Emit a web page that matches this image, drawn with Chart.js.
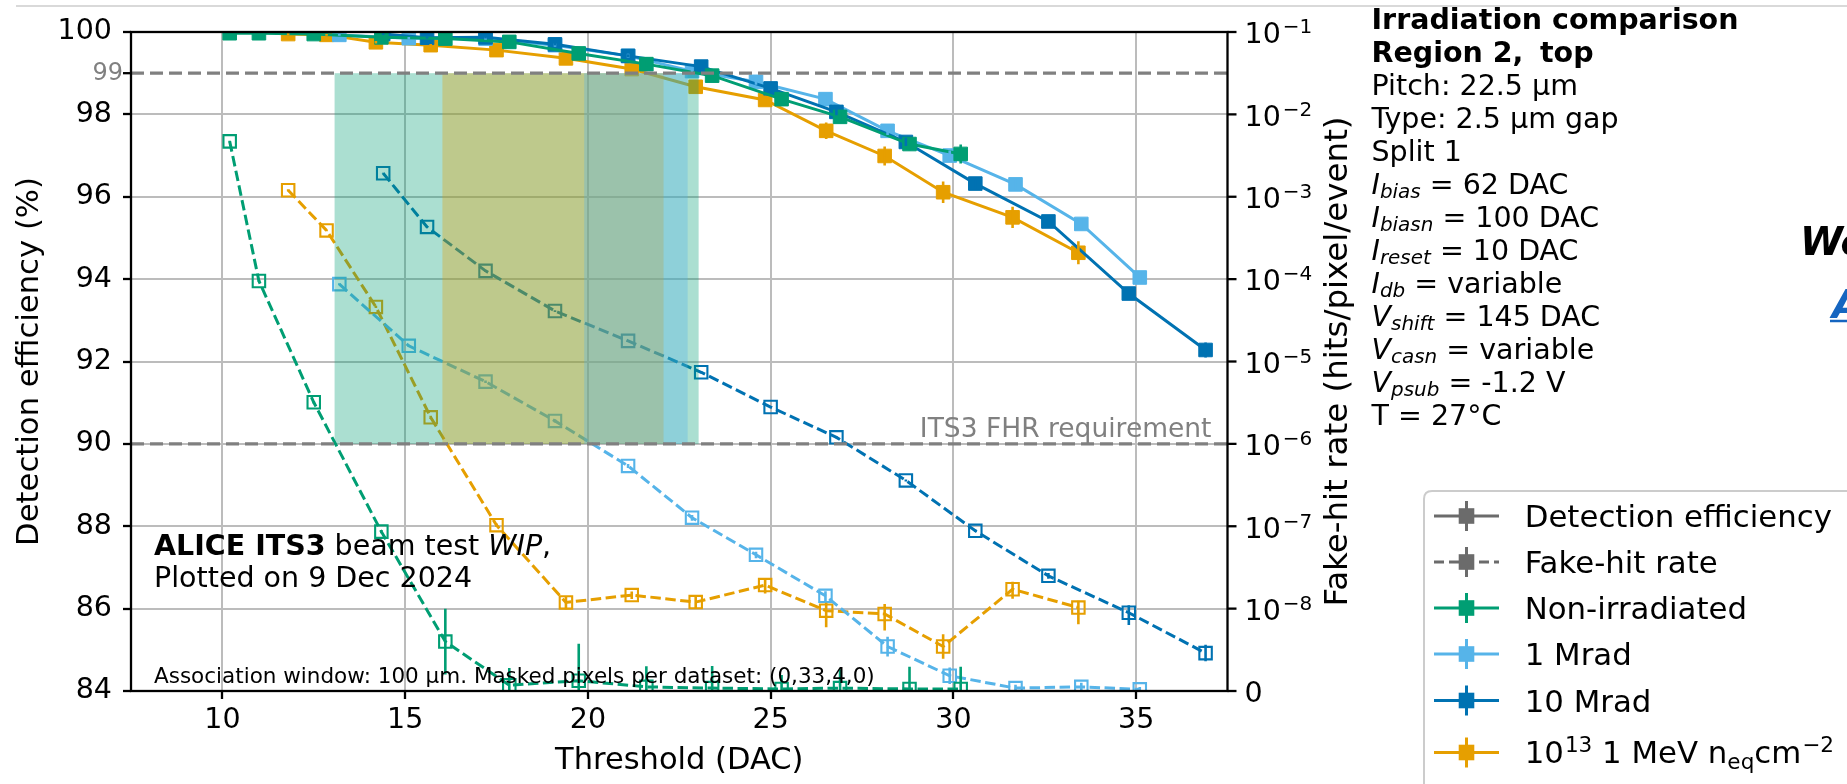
<!DOCTYPE html>
<html><head><meta charset="utf-8">
<script src="https://cdn.jsdelivr.net/npm/chart.js@4.4.1/dist/chart.umd.min.js"></script>
<style>html,body{margin:0;padding:0;background:#fff;overflow:hidden}canvas{display:block}</style>
</head><body>
<canvas id="c" width="1847" height="784"></canvas>
<script>
// ---------------- data ----------------
const thrNonIrr = [10.2, 11.0, 12.5, 14.35, 16.1, 17.85, 19.75, 21.6, 23.4, 25.3, 26.9, 28.8, 30.2];
const effNonIrr = [99.97, 99.97, 99.95, 99.87, 99.84, 99.76, 99.48, 99.22, 98.94, 98.37, 97.94, 97.28, 97.04];
const effErrNonIrr = [0.02, 0.02, 0.02, 0.03, 0.03, 0.04, 0.05, 0.06, 0.07, 0.09, 0.1, 0.15, 0.23];
const fhrNonIrr = [4.7e-3, 9.5e-5, 3.2e-6, 8.6e-8, 6.0e-9, 7e-10, 1.25e-9, 5e-10, 3.5e-10, 2.5e-10, 3.5e-10, 2.5e-10, 2.5e-10];
const fhrErrNonIrr = [1e-4, 2e-6, 1e-7, 4e-9, 4e-9, 2.1e-9, 4.5e-9, 2.5e-9, 2.7e-9, 1.7e-9, 2.3e-9, 2.7e-9, 2.7e-9];

const thr1Mrad = [13.2, 15.1, 17.2, 19.1, 21.1, 22.85, 24.6, 26.5, 28.2, 29.9, 31.7, 33.5, 35.1];
const eff1Mrad = [99.93, 99.85, 99.84, 99.68, 99.42, 99.05, 98.79, 98.37, 97.6, 97.0, 96.3, 95.34, 94.04];
const effErr1Mrad = [0.02, 0.03, 0.03, 0.04, 0.05, 0.06, 0.07, 0.08, 0.1, 0.12, 0.12, 0.14, 0.15];
const fhr1Mrad = [8.7e-5, 1.55e-5, 5.7e-6, 1.9e-6, 5.4e-7, 1.27e-7, 4.5e-8, 1.43e-8, 5.4e-9, 1.85e-9, 3.5e-10, 5e-10, 2e-10];
const fhrErr1Mrad = [2e-6, 5e-7, 2e-7, 8e-8, 3e-8, 1e-8, 4e-9, 2e-9, 1.2e-9, 1e-9, 4e-10, 5e-10, 3e-10];

const thr10Mrad = [14.4, 15.6, 17.2, 19.1, 21.1, 23.1, 25.0, 26.8, 28.7, 30.6, 32.6, 34.8, 36.9];
const eff10Mrad = [99.95, 99.86, 99.87, 99.7, 99.42, 99.16, 98.63, 98.06, 97.33, 96.32, 95.4, 93.65, 92.28];
const effErr10Mrad = [0.02, 0.02, 0.03, 0.03, 0.04, 0.05, 0.06, 0.08, 0.1, 0.12, 0.13, 0.15, 0.18];
const fhr10Mrad = [1.93e-3, 4.3e-4, 1.26e-4, 4.1e-5, 1.78e-5, 7.4e-6, 2.8e-6, 1.2e-6, 3.6e-7, 8.8e-8, 2.5e-8, 9.5e-9, 4.6e-9];
const fhrErr10Mrad = [3e-5, 8e-6, 3e-6, 1e-6, 4e-7, 2e-7, 7e-8, 3e-8, 1e-8, 3e-9, 2e-9, 1.5e-9, 1e-9];

const thrNiel = [11.8, 12.85, 14.2, 15.7, 17.5, 19.4, 21.2, 22.95, 24.85, 26.52, 28.12, 29.72, 31.62, 33.42];
const effNiel = [99.95, 99.93, 99.75, 99.68, 99.56, 99.36, 99.1, 98.67, 98.35, 97.6, 96.99, 96.11, 95.5, 94.64];
const effErrNiel = [0.02, 0.02, 0.03, 0.03, 0.04, 0.05, 0.06, 0.08, 0.1, 0.2, 0.23, 0.26, 0.26, 0.28];
const fhrNiel = [1.2e-3, 3.9e-4, 4.6e-5, 2.1e-6, 1.03e-7, 1.19e-8, 1.46e-8, 1.2e-8, 1.93e-8, 9.75e-9, 9.35e-9, 5.4e-9, 1.72e-8, 1.03e-8];
const fhrErrNiel = [3e-5, 1e-5, 1.5e-6, 1e-7, 5e-9, 2e-9, 1.5e-9, 2e-9, 4e-9, 2e-9, 2e-9, 1.5e-9, 4e-9, 2.2e-9];

// operating windows (threshold ranges) per series: Non-irradiated, 10^13, 1 Mrad
const spanStart = [13.07, 16.02, 19.9];
const spanEnd = [23.03, 22.07, 22.73];

const xTicks = [10, 15, 20, 25, 30, 35];
const effTicks = [84, 86, 88, 90, 92, 94, 96, 98, 100];
const fhrTicks = [1e-1, 1e-2, 1e-3, 1e-4, 1e-5, 1e-6, 1e-7, 1e-8, 0];
const fhrTickExp = ['\u22121', '\u22122', '\u22123', '\u22124', '\u22125', '\u22126', '\u22127', '\u22128'];
const effLimit = 99;
const fhrLimit = 1e-6;

const seriesNames = ['Non-irradiated', '1 Mrad', '10 Mrad', '10^13 1 MeV neq cm^-2'];
const seriesColors = ['#009E73', '#56B4E9', '#0072B2', '#E69F00'];
const spanColors = ['rgba(0,158,115,0.33)', 'rgba(230,159,0,0.33)', 'rgba(86,180,233,0.33)'];

// ---------------- build ----------------
const series = [
  {thr: thrNonIrr, eff: effNonIrr, effErr: effErrNonIrr, fhr: fhrNonIrr, fhrErr: fhrErrNonIrr, color: seriesColors[0]},
  {thr: thr1Mrad, eff: eff1Mrad, effErr: effErr1Mrad, fhr: fhr1Mrad, fhrErr: fhrErr1Mrad, color: seriesColors[1]},
  {thr: thr10Mrad, eff: eff10Mrad, effErr: effErr10Mrad, fhr: fhr10Mrad, fhrErr: fhrErr10Mrad, color: seriesColors[2]},
  {thr: thrNiel, eff: effNiel, effErr: effErrNiel, fhr: fhrNiel, fhrErr: fhrErrNiel, color: seriesColors[3]},
];

const FONT = '"DejaVu Sans", sans-serif';
Chart.defaults.font.family = FONT;

class SymLogScale extends Chart.Scale {
  static id = 'symlog';
  static defaults = {ticks: {callback: (v) => String(v)}};
  parse(raw) { return (raw === null || raw === undefined) ? NaN : +raw; }
  determineDataLimits() { this.min = this.options.min; this.max = this.options.max; }
  buildTicks() { return fhrTicks.map(v => ({value: v})); }
  _tr(v) { const L = this.options.linthresh || 1e-8; return v <= L ? v / L : 1 + Math.log10(v / L); }
  getPixelForValue(v) {
    const a = this._tr(this.min), b = this._tr(this.max);
    return this.getPixelForDecimal((this._tr(v) - a) / (b - a));
  }
  getValueForPixel(p) {
    const L = this.options.linthresh || 1e-8;
    const a = this._tr(this.min), b = this._tr(this.max);
    const t = a + this.getDecimalForPixel(p) * (b - a);
    return t <= 1 ? t * L : L * Math.pow(10, t - 1);
  }
  getLabelForValue(v) { return String(v); }
}
Chart.register(SymLogScale);

const datasets = [];
const fhrOrder = [0, 1, 2, 3];
const effOrder = [0, 2, 1, 3];
fhrOrder.forEach(k => {
  const s = series[k];
  datasets.push({
    label: seriesNames[k] + ' FHR', xAxisID: 'x', yAxisID: 'y2',
    data: s.thr.map((t, i) => ({x: t, y: s.fhr[i]})),
    borderColor: s.color, borderWidth: 3.0, borderDash: [10.5, 4.5],
    pointStyle: 'rect', pointRadius: 8.8, pointBorderWidth: 2.1,
    pointBorderColor: s.color, pointBackgroundColor: 'rgba(0,0,0,0)',
    fill: false, tension: 0, clip: 0
  });
});
effOrder.forEach(k => {
  const s = series[k];
  datasets.push({
    label: seriesNames[k], xAxisID: 'x', yAxisID: 'y',
    data: s.thr.map((t, i) => ({x: t, y: s.eff[i]})),
    borderColor: s.color, borderWidth: 3.0,
    pointStyle: 'rect', pointRadius: 9.6, pointBorderWidth: 1,
    pointBorderColor: s.color, pointBackgroundColor: s.color,
    fill: false, tension: 0, clip: 0
  });
});

function fnt(size, o) { o = o || {}; return (o.italic ? 'italic ' : '') + (o.bold ? 'bold ' : '') + size + 'px ' + FONT; }
function rich(c, x, y, segs, size) {
  for (const s of segs) {
    const sz = (s.sup || s.sub) ? size * 0.7 : size;
    c.font = fnt(sz, s);
    const dy = s.sup ? -size * 0.37 : (s.sub ? size * 0.17 : 0);
    c.fillText(s.t, x + (s.dx || 0), y + dy);
    x += c.measureText(s.t).width + (s.dx || 0);
  }
  return x;
}

const decor = {
  id: 'decor',
  beforeDraw(chart) {
    const c = chart.ctx;
    c.save();
    c.fillStyle = '#fff'; c.fillRect(0, 0, chart.width, chart.height);
    c.strokeStyle = '#d9d9d9'; c.lineWidth = 2;
    c.beginPath(); c.moveTo(16, 6); c.lineTo(chart.width, 6); c.stroke();
    c.restore();
  },
  afterDatasetsDraw(chart) {
    const c = chart.ctx, a = chart.chartArea;
    const xs = chart.scales.x, ys = chart.scales.y, y2 = chart.scales.y2;
    c.save();
    c.beginPath(); c.rect(a.left, a.top, a.right - a.left, a.bottom - a.top); c.clip();
    // error bars
    c.lineWidth = 2.6;
    series.forEach(s => {
      c.strokeStyle = s.color;
      s.thr.forEach((t, i) => {
        const px = xs.getPixelForValue(t);
        c.beginPath();
        c.moveTo(px, ys.getPixelForValue(s.eff[i] - s.effErr[i]));
        c.lineTo(px, ys.getPixelForValue(s.eff[i] + s.effErr[i]));
        c.stroke();
        c.beginPath();
        c.moveTo(px, y2.getPixelForValue(Math.max(0, s.fhr[i] - s.fhrErr[i])));
        c.lineTo(px, y2.getPixelForValue(s.fhr[i] + s.fhrErr[i]));
        c.stroke();
      });
    });
    // operating windows
    const yTop = ys.getPixelForValue(effLimit), yBot = y2.getPixelForValue(fhrLimit);
    spanStart.forEach((s0, i) => {
      const x0 = xs.getPixelForValue(s0), x1 = xs.getPixelForValue(spanEnd[i]);
      c.fillStyle = spanColors[i];
      c.fillRect(x0, yTop, x1 - x0, yBot - yTop);
    });
    // reference lines
    c.strokeStyle = '#808080'; c.lineWidth = 3.3; c.setLineDash([13, 6]);
    [yTop, yBot].forEach(y => { c.beginPath(); c.moveTo(a.left, y); c.lineTo(a.right, y); c.stroke(); });
    c.setLineDash([]);
    c.restore();

    // in-plot texts
    c.save();
    c.textBaseline = 'alphabetic';
    c.fillStyle = '#808080'; c.font = fnt(26.5); c.textAlign = 'right';
    c.fillText('ITS3 FHR requirement', a.right - 16, yBot - 7);
    c.textAlign = 'left'; c.fillStyle = '#000';
    rich(c, 154, 555, [{t: 'ALICE ITS3', bold: true}, {t: ' beam test '}, {t: 'WIP', italic: true}, {t: ','}], 28.5);
    c.font = fnt(28.5); c.fillText('Plotted on 9 Dec 2024', 154, 587);
    c.font = fnt(21.5); c.fillText('Association window: 100 \u00b5m. Masked pixels per dataset: (0,33,4,0)', 154, 683);
    c.restore();

    // frame
    c.save();
    c.strokeStyle = '#000'; c.lineWidth = 2.3;
    c.strokeRect(a.left, a.top, a.right - a.left, a.bottom - a.top);
    c.beginPath(); c.moveTo(a.left - 8, yTop); c.lineTo(a.left, yTop); c.stroke();
    fhrTicks.forEach(v => {
      const y = y2.getPixelForValue(v);
      c.beginPath(); c.moveTo(a.right, y); c.lineTo(a.right + 9, y); c.stroke();
    });
    c.restore();
  },
  afterDraw(chart) {
    const c = chart.ctx, a = chart.chartArea;
    const ys = chart.scales.y, y2 = chart.scales.y2;
    c.save();
    c.fillStyle = '#808080'; c.font = fnt(24); c.textAlign = 'right'; c.textBaseline = 'middle';
    c.fillText(String(effLimit), a.left - 8, ys.getPixelForValue(effLimit) + 1);
    c.fillStyle = '#000'; c.textAlign = 'left'; c.textBaseline = 'alphabetic';
    fhrTicks.forEach((v, i) => {
      const y = y2.getPixelForValue(v);
      if (v === 0) {
        c.font = fnt(28.5); c.fillText('0', a.right + 17, y + 10.5);
      } else {
        c.font = fnt(28.5); c.fillText('10', a.right + 17, y + 11.3);
        const w = c.measureText('10').width;
        c.font = fnt(20); c.fillText(fhrTickExp[i], a.right + 19 + w, y + 1.3);
      }
    });
    c.textAlign = 'center'; c.textBaseline = 'middle'; c.fillStyle = '#000';
    const cy = (a.top + a.bottom) / 2;
    c.save(); c.translate(30, cy); c.rotate(-Math.PI / 2); c.font = fnt(30.7);
    c.fillText('Detection efficiency (%)', 0, 0); c.restore();
    c.save(); c.translate(1339, cy); c.rotate(-Math.PI / 2); c.font = fnt(32.5);
    c.fillText('Fake-hit rate (hits/pixel/event)', 0, 0); c.restore();
    c.textBaseline = 'alphabetic'; c.font = fnt(30.5);
    c.fillText('Threshold (DAC)', (a.left + a.right) / 2, 769);

    c.textAlign = 'left'; c.textBaseline = 'alphabetic';
    const tx = 1371.5, lh = 33, y0 = 28.5;
    c.font = fnt(28.5, {bold: true}); c.fillText('Irradiation comparison', tx, y0);
    c.fillText('Region 2,', tx, y0 + lh); c.fillText('top', 1540, y0 + lh);
    c.font = fnt(28.5);
    c.fillText('Pitch: 22.5 \u00b5m', tx, y0 + 2 * lh);
    c.fillText('Type: 2.5 \u00b5m gap', tx, y0 + 3 * lh);
    c.fillText('Split 1', tx, y0 + 4 * lh);
    const params = [
      ['I', 'bias', ' = 62 DAC'], ['I', 'biasn', ' = 100 DAC'], ['I', 'reset', ' = 10 DAC'],
      ['I', 'db', ' = variable'], ['V', 'shift', ' = 145 DAC'], ['V', 'casn', ' = variable'], ['V', 'psub', ' = -1.2 V']
    ];
    params.forEach((p, i) => {
      rich(c, tx, y0 + (5 + i) * lh, [{t: p[0], italic: true}, {t: p[1], italic: true, sub: true}, {t: p[2]}], 28.5);
    });
    c.font = fnt(28.5); c.fillText('T = 27\u00b0C', tx, y0 + 12 * lh);

    const lx = 1424, ly = 491;
    c.beginPath();
    c.moveTo(lx + 8, ly); c.lineTo(1900, ly); c.lineTo(1900, 820); c.lineTo(lx, 820); c.lineTo(lx, ly + 8);
    c.quadraticCurveTo(lx, ly, lx + 8, ly); c.closePath();
    c.fillStyle = 'rgba(255,255,255,0.85)'; c.fill();
    c.strokeStyle = '#cccccc'; c.lineWidth = 2; c.stroke();
    const legY = [516, 562, 608, 654, 700.5, 752.5];
    const legCol = ['#6b6b6b', '#6b6b6b'].concat(seriesColors);
    const legDash = [false, true, false, false, false, false];
    const legText = ['Detection efficiency', 'Fake-hit rate', seriesNames[0], seriesNames[1], seriesNames[2]];
    legY.forEach((y, i) => {
      c.strokeStyle = legCol[i]; c.fillStyle = legCol[i]; c.lineWidth = 3;
      c.setLineDash(legDash[i] ? [10, 5] : []);
      c.beginPath(); c.moveTo(1434, y); c.lineTo(1499, y); c.stroke();
      c.setLineDash([]);
      c.beginPath(); c.moveTo(1466.5, y - 15); c.lineTo(1466.5, y + 15); c.stroke();
      c.fillRect(1466.5 - 7.8, y - 7.8, 15.6, 15.6);
      c.fillStyle = '#000'; c.textAlign = 'left';
      if (i < 5) {
        c.font = fnt(30.8); c.fillText(legText[i], 1524.7, y + 11.2);
      } else {
        rich(c, 1524.7, y + 10.8, [{t: '10'}, {t: '13', sup: true, dx: 1}, {t: ' 1 MeV n'}, {t: 'eq', sub: true}, {t: 'cm'}, {t: '\u22122', sup: true, dx: 1}], 30.8);
      }
    });

    c.fillStyle = '#000'; c.font = fnt(39, {bold: true, italic: true});
    c.fillText('We', 1800, 255);
    c.fillStyle = '#1565c0'; c.fillText('A', 1832, 318);
    c.strokeStyle = '#1565c0'; c.lineWidth = 2.5;
    c.beginPath(); c.moveTo(1830, 321); c.lineTo(1847, 321); c.stroke();
    c.restore();
  }
};

const gridCommon = {color: '#bcbcbc', lineWidth: 2, tickColor: '#000', tickWidth: 2.3, tickLength: 8, drawTicks: true};

new Chart(document.getElementById('c').getContext('2d'), {
  type: 'line',
  data: {datasets},
  options: {
    responsive: false, animation: false, devicePixelRatio: 1,
    layout: {padding: {top: 32, left: 0, right: 499.5, bottom: 0}},
    plugins: {legend: {display: false}, tooltip: {enabled: false}},
    scales: {
      x: {
        type: 'linear', position: 'bottom', min: 7.5, max: 37.5,
        afterBuildTicks: s => { s.ticks = xTicks.map(v => ({value: v})); },
        afterFit: s => { s.height = 93; },
        grid: gridCommon, border: {display: false},
        ticks: {font: {size: 28.5}, color: '#000', padding: 4, maxRotation: 0, autoSkip: false}
      },
      y: {
        type: 'linear', position: 'left', min: 84, max: 100,
        afterBuildTicks: s => { s.ticks = effTicks.map(v => ({value: v})); },
        afterFit: s => { s.width = 131; },
        grid: gridCommon, border: {display: false},
        ticks: {font: {size: 28.5}, color: '#000', padding: 11, autoSkip: false}
      },
      y2: {
        type: 'symlog', position: 'right', min: 0, max: 0.1, linthresh: 1e-8,
        afterFit: s => { s.width = 120; },
        grid: {display: false, drawOnChartArea: false}, border: {display: false},
        ticks: {display: false}
      }
    }
  },
  plugins: [decor]
});
</script>
</body></html>
